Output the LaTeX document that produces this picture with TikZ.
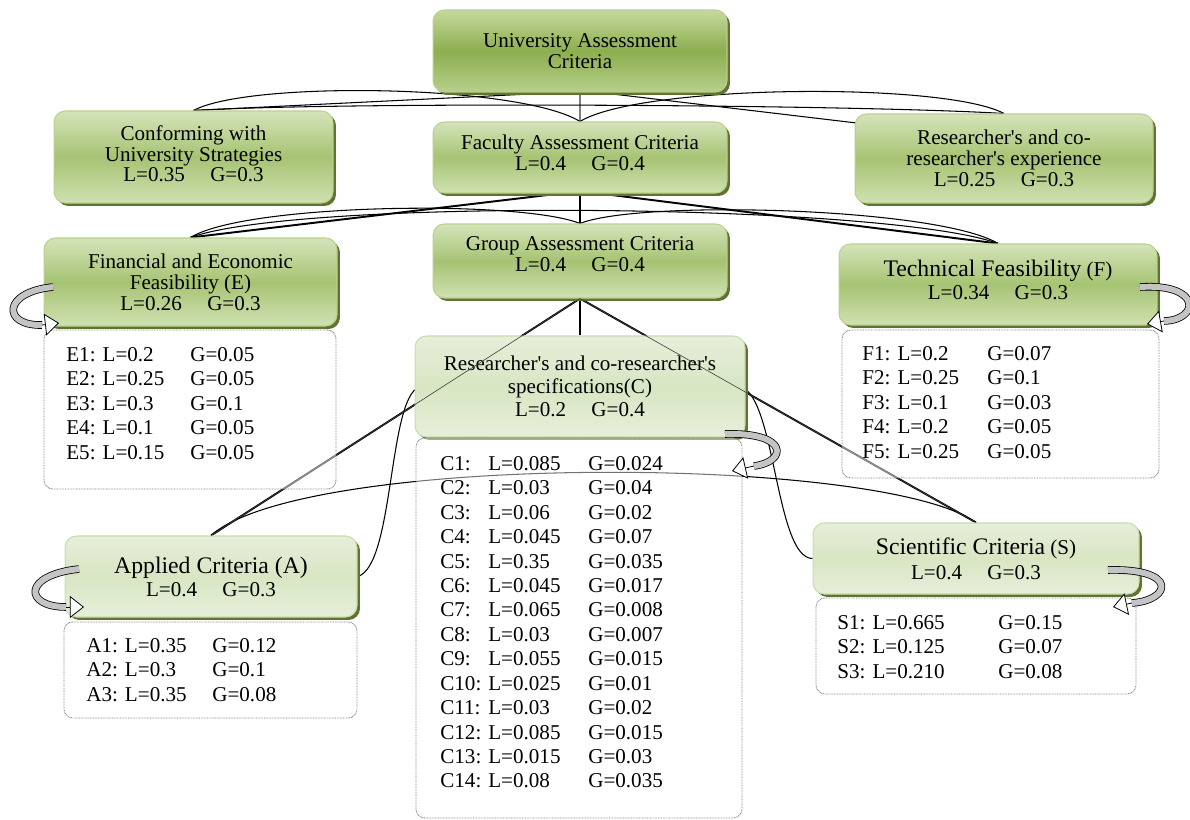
\documentclass[tikz,border=0pt]{standalone}
\usepackage{fontspec}
\setmainfont{Liberation Serif}
\newfontfamily\rawserif{Liberation Serif}
\usetikzlibrary{shadows,arrows.meta,calc}
\pgfdeclarelayer{bg}
\pgfsetlayers{bg,main}
\definecolor{uTop}{HTML}{C5D99E}
\definecolor{uMid}{HTML}{8CAE4E}
\definecolor{uBot}{HTML}{B7CF8C}
\definecolor{mTop}{HTML}{D5E4BA}
\definecolor{mMid}{HTML}{A6C373}
\definecolor{mBot}{HTML}{D0E1B2}
\definecolor{lTop}{HTML}{E6EEDA}
\definecolor{lMid}{HTML}{D8E6C3}
\definecolor{lBot}{HTML}{E6EFD9}
\definecolor{shadowgreen}{HTML}{5E7430}
\definecolor{boxborder}{HTML}{B9D08F}
\definecolor{lightborder}{HTML}{C9DCAE}
\definecolor{arrowgray}{HTML}{C4C4C4}
\newcommand{\lggap}{\hspace{1.2em}}
\newcommand{\apo}{{\rawserif'}}
\begin{document}
\begin{tikzpicture}[x=0.02cm,y=-0.02cm, line join=round,
  gbox/.style={rounded corners=6.5pt, line width=0.6pt, align=center, inner sep=2pt,
     font=\fontsize{12}{11.8}\selectfont,
     general shadow={fill=shadowgreen, shadow xshift=1.7pt, shadow yshift=-1.7pt}},
  dark/.style={gbox, draw=boxborder, top color=uTop, bottom color=uBot, middle color=uMid},
  med/.style={gbox, draw=boxborder, top color=mTop, bottom color=mBot, middle color=mMid},
  light/.style={gbox, draw=lightborder, top color=lTop, bottom color=lBot, middle color=lMid},
  listbox/.style={rounded corners=5pt, draw=gray, dash pattern=on 0.45pt off 0.45pt, line width=0.5pt, fill=white, fill opacity=0.45},
  listtext/.style={anchor=north west, inner sep=0pt, font=\fontsize{12}{13.9}\selectfont, align=left},
  conn/.style={line width=0.6pt, black},
  heavy/.style={line width=1.1pt, black},
  grayconn/.style={line width=0.8pt, gray},
  thinover/.style={line width=0.35pt, black!75},
  uturn/.style={draw=black, line width=0.45pt, double=arrowgray, double distance=3.4pt},
  uhead/.style={line width=0.45pt, -{Triangle[length=8pt,width=12.5pt,fill=white]}}
]
\useasboundingbox (0,0) rectangle (1190,819);

% ---------- boxes ----------
\node[dark, minimum width=5.88cm, minimum height=1.64cm] (univ) at (580,51) {University Assessment\\Criteria};
\node[med, minimum width=5.58cm, minimum height=1.84cm] (conf) at (193.5,157) {Conforming with\\University Strategies\\L=0.35\lggap G=0.3\\[-8pt]\mbox{}};
\node[med, minimum width=5.88cm, minimum height=1.42cm] (fac) at (580,157.5) {Faculty Assessment Criteria\\L=0.4\lggap G=0.4\\[-6pt]\mbox{}};
\node[med, minimum width=5.96cm, minimum height=1.78cm] (rexp) at (1004,158.5) {Researcher\apo s and co-\\researcher\apo s experience\\L=0.25\lggap G=0.3};
\node[med, minimum width=5.88cm, minimum height=1.48cm] (grp) at (580,261) {Group Assessment Criteria\\L=0.4\lggap G=0.4\\[-4pt]\mbox{}};
\node[med, minimum width=5.86cm, minimum height=1.76cm, font=\fontsize{12}{12}\selectfont] (fin) at (190.5,282) {Financial and Economic\\Feasibility (E)\\L=0.26\lggap G=0.3};
\node[med, minimum width=6.36cm, minimum height=1.62cm, font=\fontsize{12}{13}\selectfont] (tech) at (998,284.5) {{\fontsize{13.5}{13}\selectfont Technical Feasibility} (F)\\L=0.34\lggap G=0.3\\[-8pt]\mbox{}};
\node[light, minimum width=6.6cm, minimum height=2.02cm, font=\fontsize{12}{13}\selectfont] (spec) at (580,386.5) {Researcher\apo s and co-researcher\apo s\\specifications(C)\\L=0.2\lggap G=0.4};
\node[light, minimum width=5.84cm, minimum height=1.62cm, font=\fontsize{12}{13}\selectfont] (appl) at (211,576.5) {{\fontsize{13.5}{13}\selectfont Applied Criteria (A)}\\L=0.4\lggap G=0.3};
\node[light, minimum width=6.52cm, minimum height=1.42cm, font=\fontsize{12}{14}\selectfont] (sci) at (976,558.5) {{\fontsize{13.5}{14}\selectfont Scientific Criteria} (S)\\L=0.4\lggap G=0.3};

% ---------- connectors (behind) ----------
\begin{pgfonlayer}{bg}
% level 1
\draw[grayconn] (univ.south) -- (fac.north);
\draw[conn] (conf.north) .. controls +(55,-30) and +(-60,-37) .. (fac.north);
\draw[conn] (fac.north) .. controls +(60,-37) and +(-60,-32) .. (rexp.north);
\draw[conn] (conf.north) .. controls +(150,-9) and +(-150,-9) .. (rexp.north);
\draw[conn] ($(univ.south)+(-20,0)$) -- (conf.north);
\draw[conn] ($(univ.south)+(20,0)$) -- ($(rexp.center)+(0,-18)$);
% level 2
\draw[conn] (fac.south) -- (grp.north);
\draw[conn] (fin.north) .. controls +(55,-34) and +(-60,-24) .. (grp.north);
\draw[conn] (grp.north) .. controls +(60,-24) and +(-60,-36) .. (tech.north);
\draw[conn] (fin.north) .. controls +(110,-40) and +(-110,-40) .. (tech.north);
\draw[heavy] ($(fac.south)+(-20,0)$) -- (fin.north);
\draw[heavy] ($(fac.south)+(20,0)$) -- (tech.north);
% level 3
\draw[conn] (grp.south) -- (spec.north);
\draw[heavy] (grp.south) -- (appl.north);
\draw[heavy] (grp.south) -- (sci.north);
\draw[conn] (appl.north) .. controls +(93,-83) and +(-95,-68) .. (sci.north);
\draw[conn] (appl.east) .. controls +(38,-10) and +(-35,0) .. ($(spec.west)+(8,0)$);
\draw[conn] ($(spec.east)+(-8,0)$) .. controls +(38,0) and +(-38,0) .. (sci.west);
\end{pgfonlayer}

% thin traces of the lines crossing the specification box
\draw[thinover] (grp.south) -- (appl.north);
\draw[thinover] (grp.south) -- (sci.north);

% ---------- list boxes ----------
\node[listbox, minimum width=5.84cm, minimum height=3.18cm] (elist) at (190,409.5) {};
\node[listtext] (etext) at (66,344) {\begin{tabular}{@{}p{2.48cm}@{}l@{}}
E1: L=0.2 & G=0.05\\
E2: L=0.25 & G=0.05\\
E3: L=0.3 & G=0.1\\
E4: L=0.1 & G=0.05\\
E5: L=0.15 & G=0.05
\end{tabular}};

\node[listbox, minimum width=6.34cm, minimum height=2.96cm] (flist) at (1000.5,404) {};
\node[listtext] (ftext) at (862,343) {\begin{tabular}{@{}p{2.5cm}@{}l@{}}
F1: L=0.2 & G=0.07\\
F2: L=0.25 & G=0.1\\
F3: L=0.1 & G=0.03\\
F4: L=0.2 & G=0.05\\
F5: L=0.25 & G=0.05
\end{tabular}};

\node[listbox, minimum width=6.52cm, minimum height=7.6cm] (clist) at (579,628) {};
\node[listtext] (ctext) at (440,453) {\begin{tabular}{@{}p{0.96cm}@{}p{2cm}@{}l@{}}
C1: & L=0.085 & G=0.024\\
C2: & L=0.03 & G=0.04\\
C3: & L=0.06 & G=0.02\\
C4: & L=0.045 & G=0.07\\
C5: & L=0.35 & G=0.035\\
C6: & L=0.045 & G=0.017\\
C7: & L=0.065 & G=0.008\\
C8: & L=0.03 & G=0.007\\
C9: & L=0.055 & G=0.015\\
C10: & L=0.025 & G=0.01\\
C11: & L=0.03 & G=0.02\\
C12: & L=0.085 & G=0.015\\
C13: & L=0.015 & G=0.03\\
C14: & L=0.08 & G=0.035
\end{tabular}};

\node[listbox, minimum width=5.86cm, minimum height=1.92cm] (alist) at (210.5,670) {};
\node[listtext] (atext) at (86,635) {\begin{tabular}{@{}p{2.52cm}@{}l@{}}
A1: L=0.35 & G=0.12\\
A2: L=0.3 & G=0.1\\
A3: L=0.35 & G=0.08
\end{tabular}};

\node[listbox, minimum width=6.4cm, minimum height=1.92cm] (slist) at (976,646) {};
\node[listtext] (stext) at (837,612) {\begin{tabular}{@{}p{3.22cm}@{}l@{}}
S1: L=0.665 & G=0.15\\
S2: L=0.125 & G=0.07\\
S3: L=0.210 & G=0.08
\end{tabular}};

% ---------- U-turn arrows ----------
\draw[uturn] (53,287) .. controls (2,292) and (2,326) .. (42,325);
\draw[uhead] (42,325) -- (59,323);
\draw[uturn] (1140,287) .. controls (1202,283) and (1200,320) .. (1164,321);
\draw[uhead] (1164,321) -- (1147,324);
\draw[uturn] (725,434) .. controls (790,432) and (787,462) .. (754,466);
\draw[uhead] (754,466) -- (732,471);
\draw[uturn] (79,569) .. controls (22,575) and (24,607) .. (66,607);
\draw[uhead] (66,607) -- (84,607);
\draw[uturn] (1108,570) .. controls (1178,568) and (1172,600) .. (1132,603);
\draw[uhead] (1132,603) -- (1113,607);
\end{tikzpicture}
\end{document}
